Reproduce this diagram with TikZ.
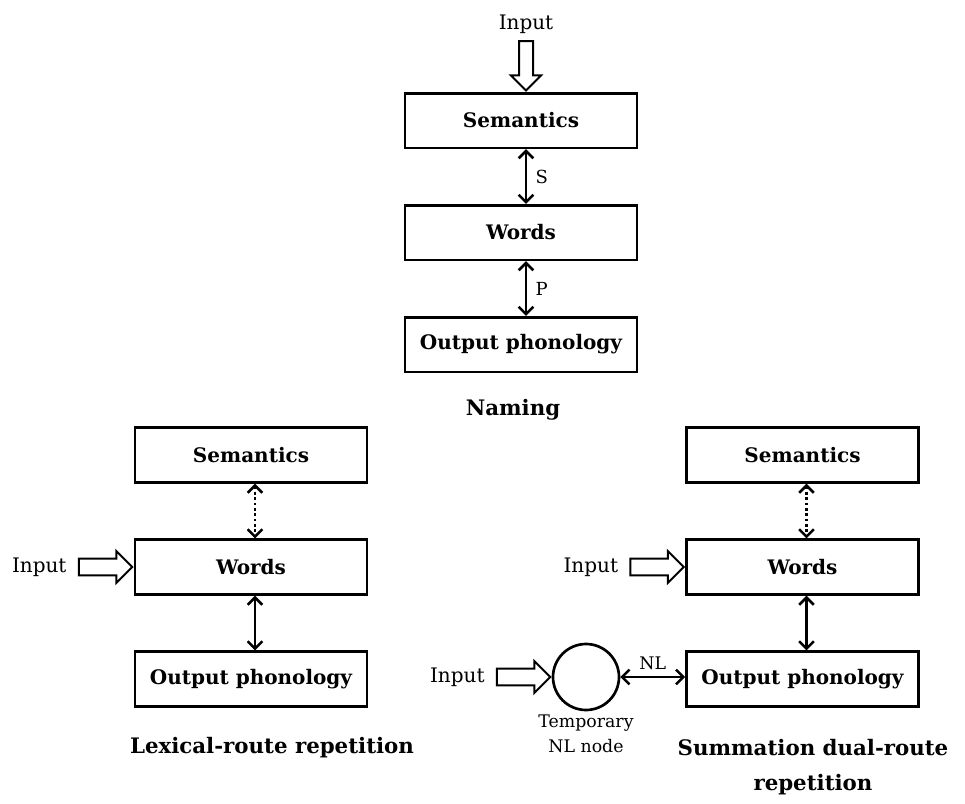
\documentclass[tikz,border=0pt]{standalone}
\usepackage{fontspec}
\setmainfont{DejaVu Serif}
\usetikzlibrary{positioning, arrows.meta, shapes.arrows, shapes.geometric}
\tikzset{%
  % Specifications for style of nodes:
            box/.style = {rectangle, draw=black, line width=2pt,
                          minimum width=174pt, minimum height=41pt,
                          font=\fontsize{15}{17}\selectfont\bfseries},
            inArrow/.style = {single arrow, draw=black, fill=white, line width=1.5pt,
                              inner xsep=0pt, inner ysep=5.6pt,
                              single arrow head extend=5.6pt,
                              minimum height=40pt, anchor=tip},
            inText/.style = {font=\fontsize{15}{18}\selectfont},
            small/.style = {font=\fontsize{13.5}{19}\selectfont, align=center},
            title/.style = {font=\fontsize{16}{26}\selectfont\bfseries, align=center},
  % Specifications for style of links:
            link/.style = {line width=1.9pt,
                           {Straight Barb[length=5.5pt,width=11pt]}-{Straight Barb[length=5.5pt,width=11pt]}},
            weakLink/.style = {link, dash pattern=on 2pt off 2pt},
 }

\begin{document}
\begin{tikzpicture}[x=0.75pt, y=-0.75pt, node distance=41pt]
  \useasboundingbox (0,0) rectangle (965,804);
  % Naming
     \node (semN) [box] at (521,120.5) {Semantics};
     \node (wordsN) [box, below=of semN] {Words};
     \node (outN) [box, below=of wordsN] {Output phonology};
     \node (inArrN) [inArrow, rotate=-90, inner ysep=4.5pt, single arrow head extend=6pt,
                     minimum height=37pt] at ([xshift=3.75pt]semN.north) {};
     \node (inN) [inText, above=1pt of inArrN.tail] {Input};
     \node (naming) [title] at (513,410) {Naming};

     \draw [link] ([xshift=3.75pt]semN.south) -- ([xshift=3.75pt]wordsN.north)
           node [midway, right=3pt, small] {S};
     \draw [link] ([xshift=3.75pt]wordsN.south) -- ([xshift=3.75pt]outN.north)
           node [midway, right=3pt, small] {P};

  % Lexical-route repetition
     \node (semL) [box] at (251,455) {Semantics};
     \node (wordsL) [box, below=of semL] {Words};
     \node (outL) [box, below=of wordsL] {Output phonology};
     \node (inArrL) [inArrow] at (wordsL.west) {};
     \node (inL) [inText, left=5pt of inArrL.tail] {Input};
     \node (lexical) [title] at (272,748) {Lexical-route repetition};

     \draw [weakLink] ([xshift=3pt]semL.south) -- ([xshift=3pt]wordsL.north);
     \draw [link] ([xshift=3pt]wordsL.south) -- ([xshift=3pt]outL.north);

  % Summation dual-route repetition
     \node (semR) [box] at (802.5,455) {Semantics};
     \node (wordsR) [box, below=of semR] {Words};
     \node (outR) [box, below=of wordsR] {Output phonology};
     \node (inArrR) [inArrow] at (wordsR.west) {};
     \node (inR) [inText, left=5pt of inArrR.tail] {Input};

     \node (nlNode) [circle, draw=black, line width=2pt, minimum size=49.5pt] at (586,677) {};
     \node (inArrC) [inArrow] at (nlNode.west) {};
     \node (inC) [inText, left=5pt of inArrC.tail] {Input};
     \node (nlText) [small, font=\fontsize{13}{19}\selectfont, below=-1pt of nlNode] {Temporary\\NL node};
     \node (summation) [title] at (813,767) {Summation dual-route\\repetition};

     \draw [weakLink] ([xshift=3pt]semR.south) -- ([xshift=3pt]wordsR.north);
     \draw [link] ([xshift=3pt]wordsR.south) -- ([xshift=3pt]outR.north);
     \draw [link] (nlNode) -- (nlNode -| outR.west)
           node [midway, above=1pt, small, font=\fontsize{13}{19}\selectfont] {NL};

\end{tikzpicture}
\end{document}
